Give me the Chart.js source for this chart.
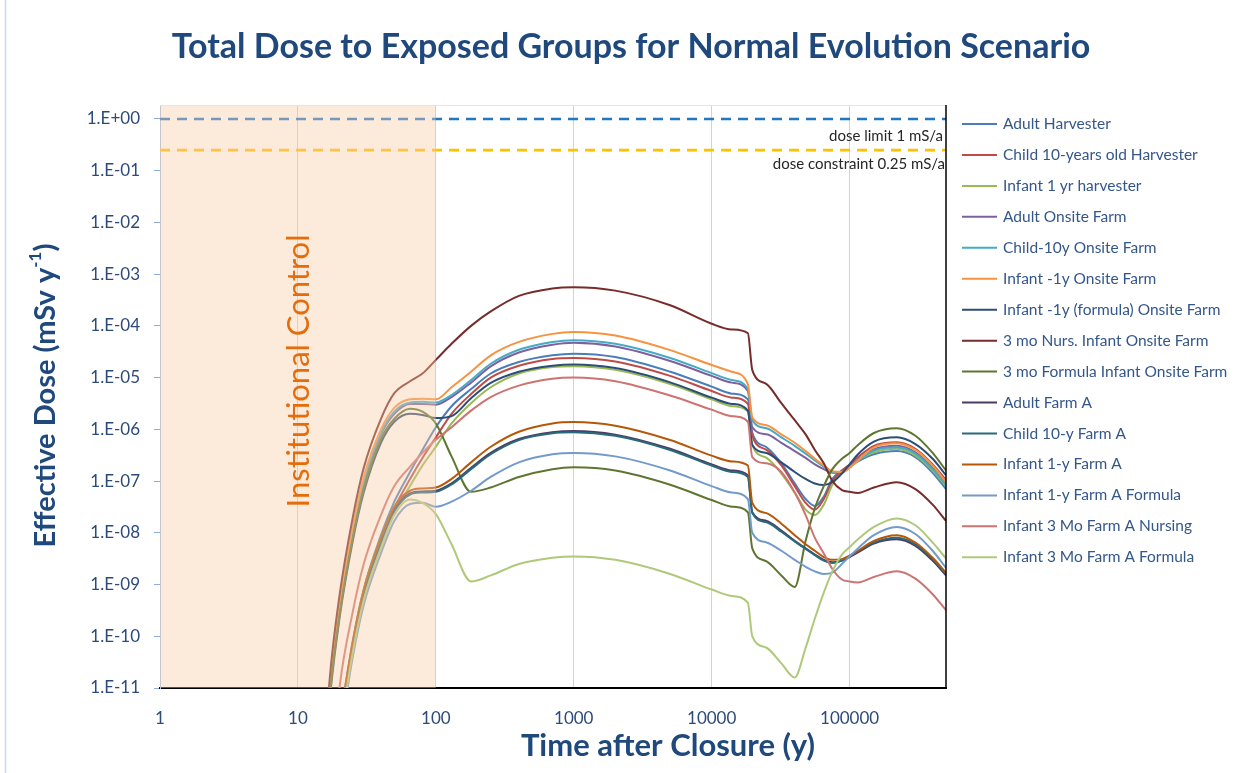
<!DOCTYPE html>
<html><head><meta charset="utf-8">
<script src="https://cdn.jsdelivr.net/npm/chart.js@4/dist/chart.umd.min.js"></script>
<style>html,body{margin:0;padding:0;background:#fff;}#wrap{width:1247px;height:773px;position:relative;}</style>
</head><body><div id="wrap"><canvas id="c"></canvas></div>
<script>
// ---------- DATA ----------
const timeYears = [15, 17, 20, 25, 30, 40, 50, 65, 80, 100, 130, 180, 250, 400, 700, 1000, 2000, 5000, 10000, 14000, 18300, 19700, 25000, 32000, 40000, 48000, 56000, 65000, 75000, 88000, 100000, 115000, 150000, 220000, 300000, 400000, 500000];

const adultHarvester = [1e-13, 1e-13, 2e-12, 8e-11, 8e-10, 9e-9, 4e-8, 1.5e-7, 4e-7, 1.1e-6, 2.8e-6, 6e-6, 1.2e-5, 2e-5, 2.7e-5, 2.9e-5, 2.5e-5, 1.3e-5, 6.7e-6, 4.9e-6, 3.8e-6, 8.6e-7, 4.5e-7, 2.2e-7, 9e-8, 4.5e-8, 3.3e-8, 5e-8, 1.1e-7, 1.6e-7, 1.9e-7, 2.4e-7, 3.3e-7, 3.8e-7, 2.9e-7, 1.45e-7, 7e-8];
const child10Harvester = [1e-13, 1e-13, 1.5e-12, 6e-11, 6e-10, 7e-9, 3e-8, 1.1e-7, 2.8e-7, 7e-7, 2e-6, 4.8e-6, 1e-5, 1.7e-5, 2.3e-5, 2.4e-5, 2.05e-5, 1.08e-5, 5.5e-6, 4.1e-6, 3.1e-6, 7.5e-7, 4e-7, 2e-7, 8e-8, 3.8e-8, 2.8e-8, 4.5e-8, 1e-7, 1.6e-7, 2.1e-7, 2.9e-7, 4.8e-7, 5.6e-7, 4.2e-7, 2.1e-7, 1.05e-7];
const infant1Harvester = [1e-13, 1e-13, 1.2e-12, 5e-11, 5e-10, 6e-9, 2.5e-8, 8e-8, 2e-7, 4.6e-7, 1.3e-6, 3.2e-6, 6.5e-6, 1.2e-5, 1.6e-5, 1.66e-5, 1.41e-5, 7.5e-6, 3.8e-6, 2.8e-6, 2.2e-6, 5e-7, 2.8e-7, 1.4e-7, 6e-8, 2.8e-8, 2.2e-8, 3.5e-8, 8.5e-8, 1.45e-7, 1.9e-7, 2.5e-7, 3.6e-7, 4.2e-7, 3.1e-7, 1.6e-7, 8e-8];
const adultOnsite = [1e-13, 8e-12, 3e-10, 1e-8, 9e-8, 8e-7, 2e-6, 3.1e-6, 3.1e-6, 3e-6, 4.2e-6, 8e-6, 1.65e-5, 3.05e-5, 4.3e-5, 4.7e-5, 4e-5, 2.1e-5, 1.08e-5, 8e-6, 5.5e-6, 1.1e-6, 8e-7, 5.5e-7, 3.8e-7, 2.8e-7, 2.1e-7, 1.7e-7, 1.45e-7, 1.45e-7, 1.9e-7, 2.6e-7, 4.1e-7, 4.8e-7, 3.6e-7, 1.8e-7, 9e-8];
const child10Onsite = [1e-13, 9e-12, 3.5e-10, 1.1e-8, 1e-7, 8.5e-7, 2.2e-6, 3.3e-6, 3.4e-6, 3.3e-6, 4.6e-6, 9e-6, 1.85e-5, 3.45e-5, 4.9e-5, 5.3e-5, 4.5e-5, 2.4e-5, 1.22e-5, 9e-6, 6e-6, 1.5e-6, 1.05e-6, 7e-7, 4.8e-7, 3.4e-7, 2.5e-7, 1.9e-7, 1.5e-7, 1.5e-7, 1.85e-7, 2.5e-7, 3.9e-7, 4.5e-7, 3.4e-7, 1.7e-7, 8.5e-8];
const infant1Onsite = [1e-13, 1e-11, 4e-10, 1.3e-8, 1.2e-7, 1e-6, 2.6e-6, 3.8e-6, 3.9e-6, 3.8e-6, 6.5e-6, 1.3e-5, 2.7e-5, 4.9e-5, 7e-5, 7.6e-5, 6.5e-5, 3.4e-5, 1.75e-5, 1.3e-5, 7.5e-6, 1.7e-6, 1.2e-6, 8e-7, 5.5e-7, 3.8e-7, 2.7e-7, 2e-7, 1.55e-7, 1.5e-7, 1.8e-7, 2.5e-7, 4.5e-7, 5.4e-7, 4e-7, 2e-7, 9.5e-8];
const infant1FormulaOnsite = [1e-13, 6e-12, 2.2e-10, 7e-9, 6e-8, 5.5e-7, 1.4e-6, 2e-6, 1.9e-6, 1.65e-6, 1.8e-6, 4e-6, 7.9e-6, 1.3e-5, 1.7e-5, 1.8e-5, 1.53e-5, 8.1e-6, 4.1e-6, 3.1e-6, 2.3e-6, 5e-7, 3.5e-7, 2.3e-7, 1.5e-7, 1.1e-7, 9e-8, 8.4e-8, 9.5e-8, 1.4e-7, 2.1e-7, 3.3e-7, 5.8e-7, 7e-7, 5.2e-7, 2.7e-7, 1.3e-7];
const nursInfant3moOnsite = [1e-13, 1.5e-11, 6e-10, 2e-8, 1.8e-7, 1.6e-6, 5e-6, 8.5e-6, 1.2e-5, 2.2e-5, 4.5e-5, 1e-4, 1.9e-4, 3.8e-4, 5.3e-4, 5.6e-4, 4.8e-4, 2.5e-4, 1.1e-4, 8.5e-5, 7.2e-5, 1.4e-5, 7.5e-6, 3.2e-6, 1.5e-6, 8e-7, 4e-7, 2.2e-7, 1e-7, 6.7e-8, 6.2e-8, 5.9e-8, 7.5e-8, 9.5e-8, 7e-8, 3.5e-8, 1.7e-8];
const formulaInfant3moOnsite = [1e-13, 7e-12, 2.5e-10, 8e-9, 7e-8, 6.5e-7, 1.6e-6, 2.5e-6, 2.2e-6, 1.3e-6, 3e-7, 6.2e-8, 7.5e-8, 1.2e-7, 1.7e-7, 1.85e-7, 1.6e-7, 8.5e-8, 4.3e-8, 3.2e-8, 2.5e-8, 5e-9, 2.8e-9, 1.5e-9, 9e-10, 7e-9, 3e-8, 8e-8, 1.7e-7, 2.7e-7, 3.5e-7, 5e-7, 8.5e-7, 1.05e-6, 7.5e-7, 3.5e-7, 1.6e-7];
const adultFarmA = [1e-13, 1e-13, 1.5e-12, 7e-11, 7e-10, 7e-9, 2.8e-8, 5.8e-8, 6.3e-8, 6.5e-8, 9e-8, 1.8e-7, 3.5e-7, 6.5e-7, 8.8e-7, 9.3e-7, 7.9e-7, 4.2e-7, 2.1e-7, 1.6e-7, 1.3e-7, 2.5e-8, 1.7e-8, 1.1e-8, 7e-9, 5e-9, 3.8e-9, 3e-9, 2.7e-9, 2.9e-9, 3.4e-9, 4.2e-9, 6.2e-9, 7.5e-9, 5.6e-9, 2.9e-9, 1.5e-9];
const child10FarmA = [1e-13, 1e-13, 1.4e-12, 6.5e-11, 6.5e-10, 6.5e-9, 2.6e-8, 5.5e-8, 6e-8, 6.2e-8, 8.6e-8, 1.7e-7, 3.3e-7, 6.2e-7, 8.4e-7, 8.8e-7, 7.5e-7, 4e-7, 2e-7, 1.5e-7, 1.2e-7, 2.4e-8, 1.6e-8, 1.05e-8, 6.8e-9, 4.9e-9, 3.7e-9, 2.9e-9, 2.6e-9, 2.9e-9, 3.5e-9, 4.4e-9, 6.5e-9, 8e-9, 6e-9, 3.1e-9, 1.6e-9];
const infant1FarmA = [1e-13, 1e-13, 2e-12, 8e-11, 8e-10, 8e-9, 3.2e-8, 6.5e-8, 7.2e-8, 7.5e-8, 1.1e-7, 2.3e-7, 4.6e-7, 9e-7, 1.3e-6, 1.38e-6, 1.17e-6, 6.2e-7, 3.1e-7, 2.4e-7, 2e-7, 3.8e-8, 2.4e-8, 1.5e-8, 9e-9, 6e-9, 4.5e-9, 3.4e-9, 3e-9, 3.1e-9, 3.6e-9, 4.5e-9, 7e-9, 9e-9, 6.5e-9, 3.3e-9, 1.7e-9];
const infant1FormulaFarmA = [1e-13, 1e-13, 1e-12, 4e-11, 4e-10, 4e-9, 1.7e-8, 3.6e-8, 3.8e-8, 3.2e-8, 4e-8, 6.5e-8, 1.2e-7, 2.3e-7, 3.3e-7, 3.5e-7, 3e-7, 1.6e-7, 8e-8, 6e-8, 4.5e-8, 1e-8, 6.5e-9, 4.5e-9, 3e-9, 2.2e-9, 1.8e-9, 1.6e-9, 1.7e-9, 2.5e-9, 3.5e-9, 5e-9, 9e-9, 1.3e-8, 9.5e-9, 4.5e-9, 2.1e-9];
const nursInfant3moFarmA = [1e-13, 1e-13, 1e-11, 3e-10, 2.5e-9, 2.2e-8, 8e-8, 1.9e-7, 3.5e-7, 6.3e-7, 1.1e-6, 2.3e-6, 4.2e-6, 7e-6, 9.5e-6, 1e-5, 8.5e-6, 4.5e-6, 2.4e-6, 1.8e-6, 1.4e-6, 2.9e-7, 2.2e-7, 1.5e-7, 6e-8, 2.2e-8, 8e-9, 4e-9, 2e-9, 1.25e-9, 1.15e-9, 1.1e-9, 1.4e-9, 1.8e-9, 1.3e-9, 6.5e-10, 3.2e-10];
const formulaInfant3moFarmA = [1e-13, 1e-13, 1.2e-12, 5e-11, 5e-10, 5e-9, 2.2e-8, 4.4e-8, 3.8e-8, 2.3e-8, 6e-9, 1.15e-9, 1.5e-9, 2.5e-9, 3.3e-9, 3.5e-9, 3e-9, 1.6e-9, 8e-10, 6e-10, 4.4e-10, 1e-10, 6e-11, 3e-11, 1.6e-11, 6e-11, 2.2e-10, 7e-10, 1.8e-9, 3.8e-9, 5.3e-9, 7.5e-9, 1.3e-8, 1.9e-8, 1.4e-8, 6.5e-9, 3.2e-9];

const seriesNames = ["Adult Harvester", "Child 10-years old Harvester", "Infant 1 yr harvester", "Adult Onsite Farm", "Child-10y Onsite Farm", "Infant -1y Onsite Farm", "Infant -1y (formula) Onsite Farm", "3 mo Nurs. Infant Onsite Farm", "3 mo Formula Infant Onsite Farm", "Adult Farm A", "Child 10-y Farm A", "Infant 1-y Farm A", "Infant 1-y Farm A Formula", "Infant 3 Mo Farm A Nursing", "Infant 3 Mo Farm A Formula"];
const seriesValues = [adultHarvester, child10Harvester, infant1Harvester, adultOnsite, child10Onsite, infant1Onsite, infant1FormulaOnsite, nursInfant3moOnsite, formulaInfant3moOnsite, adultFarmA, child10FarmA, infant1FarmA, infant1FormulaFarmA, nursInfant3moFarmA, formulaInfant3moFarmA];

const xTickValues = [1, 10, 100, 1000, 10000, 100000];
const yTickValues = [1e-11, 1e-10, 1e-9, 1e-8, 1e-7, 1e-6, 1e-5, 1e-4, 1e-3, 1e-2, 1e-1, 1];
const xRange = [1, 500000];
const yRange = [1e-11, 1.86];
const doseLimitValue = 1;
const doseConstraintValue = 0.25;
const institutionalControlRange = [1, 100];
const institutionalControlMid = 10;

// ---------- STYLE ----------
const seriesColors = ["#4A7EBB", "#BE4B48", "#98B954", "#7D60A0", "#46AAC5", "#F69240", "#2C4D75", "#772C2A", "#5F7530", "#4D3B62", "#276A7C", "#B65708", "#729ACA", "#CD7371", "#AFC97A"];
const FONT = "Lato, 'Open Sans', sans-serif";
const NAVY = "#1F497D";
const TICK_COLOR = "#2C4A7A";

const datasets = seriesValues.map((vals, i) => ({
  label: seriesNames[i],
  data: timeYears.map((t, k) => ({x: t, y: vals[k]})),
  borderColor: seriesColors[i],
  backgroundColor: seriesColors[i],
  borderWidth: 2,
  pointRadius: 0,
  cubicInterpolationMode: 'monotone',
  order: seriesValues.length - i + 2,
  isSeries: true
}));
datasets.push({
  label: 'dose limit 1 mS/a',
  data: xRange.map(t => ({x: t, y: doseLimitValue})),
  borderColor: '#1F78C1', borderWidth: 2.6, borderDash: [10, 7], pointRadius: 0, order: 1
});
datasets.push({
  label: 'dose constraint 0.25 mS/a',
  data: xRange.map(t => ({x: t, y: doseConstraintValue})),
  borderColor: '#FFC000', borderWidth: 2.6, borderDash: [10, 7], pointRadius: 0, order: 0
});

function fmtExp(v) {
  const e = Math.round(Math.log10(v));
  const s = e < 0 ? '-' : '+';
  const a = Math.abs(e);
  return '1.E' + s + (a < 10 ? '0' + a : '' + a);
}

const decor = {
  id: 'decor',
  beforeDraw(chart) {
    const ctx = chart.ctx;
    ctx.save();
    ctx.fillStyle = '#fff';
    ctx.fillRect(0, 0, chart.width, chart.height);
    ctx.strokeStyle = '#C9D8EE';
    ctx.lineWidth = 1.5;
    ctx.beginPath(); ctx.moveTo(5.5, 0); ctx.lineTo(5.5, chart.height); ctx.stroke();
    ctx.restore();
  },
  afterDatasetsDraw(chart) {
    const {ctx, chartArea: a, scales: {x, y}} = chart;
    ctx.save();
    const x0 = x.getPixelForValue(institutionalControlRange[0]);
    const x1 = x.getPixelForValue(institutionalControlRange[1]);
    ctx.fillStyle = 'rgba(248,203,165,0.4)';
    ctx.fillRect(x0, a.top, x1 - x0, a.bottom - a.top);
    ctx.translate(x.getPixelForValue(institutionalControlMid) + 1, a.top + 266);
    ctx.rotate(-Math.PI / 2);
    ctx.fillStyle = '#E46C0A';
    ctx.font = "31px " + FONT;
    ctx.textAlign = 'center';
    ctx.textBaseline = 'middle';
    ctx.fillText('Institutional Control', 0, 0);
    ctx.restore();

    ctx.save();
    ctx.strokeStyle = '#DCE5F2'; ctx.lineWidth = 1;
    ctx.beginPath(); ctx.moveTo(a.left, a.top + 0.5); ctx.lineTo(a.right, a.top + 0.5); ctx.stroke();
    ctx.strokeStyle = '#000'; ctx.lineWidth = 1.5;
    ctx.beginPath(); ctx.moveTo(a.right, a.top); ctx.lineTo(a.right, a.bottom); ctx.stroke();
    ctx.fillStyle = '#262626';
    ctx.font = "15px " + FONT;
    ctx.textAlign = 'right';
    ctx.textBaseline = 'middle';
    ctx.fillText('dose limit 1 mS/a', a.right - 3, y.getPixelForValue(doseLimitValue) + 17);
    ctx.fillText('dose constraint 0.25 mS/a', a.right - 1, y.getPixelForValue(doseConstraintValue) + 14);
    ctx.restore();
  },
  afterDraw(chart) {
    const {ctx, chartArea: a} = chart;
    ctx.save();
    ctx.fillStyle = NAVY;
    ctx.font = "bold 34px " + FONT;
    ctx.textAlign = 'center';
    ctx.textBaseline = 'middle';
    ctx.fillText('Total Dose to Exposed Groups for Normal Evolution Scenario', 631, 47);
    ctx.font = "bold 31px " + FONT;
    ctx.fillText('Time after Closure (y)', 668, 746);
    ctx.translate(46, (a.top + a.bottom) / 2 - 1);
    ctx.rotate(-Math.PI / 2);
    const main = 'Effective Dose (mSv y';
    const sup = '-1';
    const tail = ')';
    ctx.font = "bold 29px " + FONT;
    const wMain = ctx.measureText(main).width;
    const wTail = ctx.measureText(tail).width;
    ctx.font = "bold 17px " + FONT;
    const wSup = ctx.measureText(sup).width;
    const total = wMain + wSup + wTail;
    let cx = -total / 2;
    ctx.textAlign = 'left';
    ctx.font = "bold 29px " + FONT;
    ctx.fillText(main, cx, 0); cx += wMain;
    ctx.font = "bold 17px " + FONT;
    ctx.fillText(sup, cx, -10); cx += wSup;
    ctx.font = "bold 29px " + FONT;
    ctx.fillText(tail, cx, 0);
    ctx.restore();

    ctx.save();
    ctx.font = "15.5px " + FONT;
    ctx.textBaseline = 'middle';
    ctx.textAlign = 'left';
    chart.data.datasets.filter(d => d.isSeries).forEach((d, i) => {
      const yy = a.top + 19 + i * 30.95;
      ctx.strokeStyle = d.borderColor; ctx.lineWidth = 2;
      ctx.beginPath(); ctx.moveTo(962, yy); ctx.lineTo(997, yy); ctx.stroke();
      ctx.fillStyle = '#34578A';
      ctx.fillText(d.label, 1003, yy);
    });
    ctx.restore();
  }
};

new Chart(document.getElementById('c'), {
  type: 'line',
  data: {datasets},
  options: {
    responsive: true,
    maintainAspectRatio: false,
    animation: false,
    layout: {padding: {left: 0, right: 301, top: 105, bottom: 0}},
    plugins: {legend: {display: false}, title: {display: false}, tooltip: {enabled: false}},
    scales: {
      x: {
        type: 'logarithmic',
        min: xRange[0], max: xRange[1],
        afterBuildTicks: s => { s.ticks = xTickValues.map(v => ({value: v})); },
        afterFit: s => { s.height = 85; },
        ticks: {
          callback: v => String(v), autoSkip: false, maxRotation: 0,
          color: TICK_COLOR, font: {family: FONT, size: 17}, padding: 20
        },
        grid: {color: '#C3D5F0', lineWidth: 1, drawTicks: false},
        border: {color: '#000', width: 2}
      },
      y: {
        type: 'logarithmic',
        min: yRange[0], max: yRange[1],
        afterBuildTicks: s => { s.ticks = yTickValues.map(v => ({value: v})); },
        afterFit: s => { s.width = 160; },
        ticks: {
          callback: v => fmtExp(v), autoSkip: false,
          color: TICK_COLOR, font: {family: FONT, size: 17}, padding: 14
        },
        grid: {drawOnChartArea: false, drawTicks: true, tickLength: 6, color: '#8FAEDC'},
        border: {color: '#A9C0E4', width: 1}
      }
    }
  },
  plugins: [decor]
});
</script>
</body></html>
